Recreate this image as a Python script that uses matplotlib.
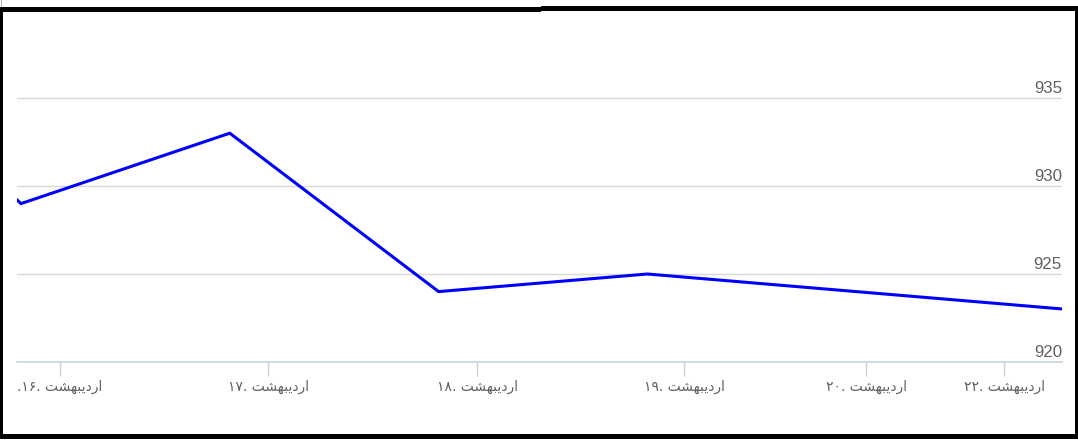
import numpy as np
import matplotlib.pyplot as plt
from matplotlib.patches import Rectangle

# price per day (ordinal axis: one point per trading day)
values = [940, 929, 933, 924, 925, 924, 923]
day_labels = [".۱۶", "۱۷", "۱۸", "۱۹", "۲۰", "۲۲"]
month = "اردیبهشت"
tick_pos = [0.187, 1.183, 2.184, 3.175, 4.047, 4.708]
y_ticks = [920, 925, 930, 935]

# small persian shaper (matplotlib has no bidi / joining)
forms = {
    "ا": ("\uFE8D", "\uFE8E", None, None),
    "ر": ("\uFEAD", "\uFEAE", None, None),
    "د": ("\uFEA9", "\uFEAA", None, None),
    "ی": ("\uFEEF", "\uFEF0", "\uFEF3", "\uFEF4"),
    "ب": ("\uFE8F", "\uFE90", "\uFE91", "\uFE92"),
    "ه": ("\uFEE9", "\uFEEA", "\uFEEB", "\uFEEC"),
    "ش": ("\uFEB5", "\uFEB6", "\uFEB7", "\uFEB8"),
    "ت": ("\uFE95", "\uFE96", "\uFE97", "\uFE98"),
}

def dual(c):
    return forms[c][2] is not None

def shape(word):
    out = []
    for i, c in enumerate(word):
        prev_join = i > 0 and dual(word[i - 1])
        next_join = i < len(word) - 1 and dual(c)
        iso, fin, ini, med = forms[c]
        if prev_join and next_join:
            out.append(med)
        elif prev_join:
            out.append(fin)
        elif next_join:
            out.append(ini)
        else:
            out.append(iso)
    return "".join(out[::-1])

month_vis = shape(month)
labels = [d + ". " + month_vis for d in day_labels]

W, H = 1078, 443
fig = plt.figure(figsize=(W / 100, H / 100), dpi=100)
ax = fig.add_axes([17 / W, 81 / H, (1062 - 17) / W, 352 / H])

x = np.arange(len(values)) - 1
ax.plot(x, values, color="#0000FF", lw=2.2, zorder=3, solid_joinstyle="miter")

ax.set_xlim(-4 / 208.8, 5 - 3 / 208.8)
ax.set_ylim(920, 940)

for v in y_ticks[1:]:
    ax.axhline(v, color="#D8D8D8", lw=1, zorder=1)
    
for v in y_ticks:
    ax.annotate(str(v), xy=(1, v), xycoords=("axes fraction", "data"),
                xytext=(0, 2), textcoords="offset pixels",
                ha="right", va="bottom", fontsize=12.2, color="#606060",
                family="Liberation Sans", annotation_clip=False)

for s in ["top", "left", "right"]:
    ax.spines[s].set_visible(False)
ax.spines["bottom"].set_color("#C8D4E0")
ax.spines["bottom"].set_linewidth(1.2)

ax.set_yticks([])
ax.set_xticks(tick_pos)
ax.set_xticklabels(labels, family=["DejaVu Sans"], fontsize=10, color="#606060")
ax.tick_params(axis="x", length=10, width=1, color="#C8D4E0", pad=3)

# black frame round the chart
def px_rect(x0, y0, x1, y1, color="black"):
    fig.add_artist(Rectangle((x0 / W, 1 - y1 / H), (x1 - x0) / W, (y1 - y0) / H,
                             transform=fig.transFigure, color=color, lw=0, zorder=10))

px_rect(0, 7, 541, 12)
px_rect(541, 6, 1078, 11)
px_rect(0, 7, 3, 439)
px_rect(1075, 6, 1078, 439)
px_rect(0, 434, 1078, 439)
px_rect(1, 0, 2, 7, color="#B0B0B0")

plt.savefig("out.png", dpi=100)
